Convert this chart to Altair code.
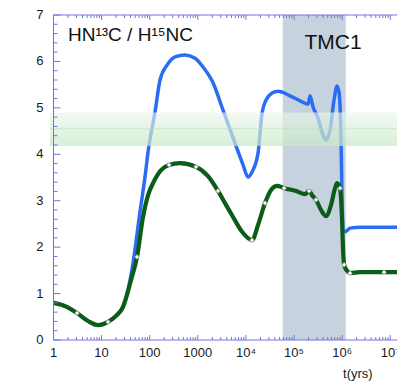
import altair as alt
import pandas as pd

# ---------------- data ----------------
# time is given as exponent of 10 (years)
blue_exp = [0.0, 0.239, 0.489, 0.717, 0.925, 1.133, 1.30, 1.445, 1.549, 1.653,
            1.798, 1.902, 1.965, 2.11, 2.214, 2.36, 2.526, 2.734, 2.942, 3.108,
            3.316, 3.524, 3.773, 3.94, 4.044, 4.127, 4.252, 4.335, 4.418, 4.543,
            4.667, 4.917, 5.125, 5.291, 5.333, 5.395, 5.499, 5.582, 5.665, 5.748,
            5.831, 5.894, 5.935, 5.977, 5.998, 6.019, 6.06, 6.164, 6.372, 6.79, 7.14]
blue_val = [0.80, 0.73, 0.58, 0.41, 0.32, 0.39, 0.52, 0.73, 1.08, 1.66,
            2.76, 3.51, 4.05, 4.91, 5.60, 5.92, 6.10, 6.14, 6.07, 5.88,
            5.54, 4.95, 4.24, 3.77, 3.51, 3.62, 4.03, 4.89, 5.17, 5.32,
            5.36, 5.26, 5.15, 5.08, 5.26, 5.02, 4.78, 4.48, 4.31, 4.52,
            5.17, 5.47, 5.34, 4.31, 3.02, 2.37, 2.33, 2.41, 2.43, 2.43, 2.43]

green_exp = [0.0, 0.239, 0.489, 0.717, 0.925, 1.133, 1.30, 1.445, 1.611, 1.736,
             1.861, 1.965, 2.069, 2.235, 2.401, 2.63, 2.963, 3.212, 3.42, 3.586,
             3.732, 3.919, 4.127, 4.252, 4.397, 4.522, 4.647, 4.792, 5.042, 5.229,
             5.312, 5.374, 5.457, 5.561, 5.665, 5.769, 5.852, 5.894, 5.956, 5.998,
             6.019, 6.04, 6.102, 6.164, 6.372, 6.871, 7.14]
green_val = [0.80, 0.73, 0.58, 0.41, 0.32, 0.39, 0.52, 0.71, 1.29, 1.79,
             2.65, 3.12, 3.38, 3.66, 3.77, 3.81, 3.73, 3.53, 3.21, 2.91,
             2.65, 2.33, 2.15, 2.48, 2.95, 3.23, 3.32, 3.27, 3.21, 3.14,
             3.21, 3.12, 3.02, 2.80, 2.67, 2.91, 3.27, 3.38, 3.27, 2.58,
             1.94, 1.62, 1.49, 1.44, 1.46, 1.46, 1.46]

marker_exp = [0.489, 1.133, 1.736, 2.401, 2.963, 3.42, 4.127, 4.397, 4.792,
              5.312, 5.457, 5.956, 6.04, 6.164, 6.871]
marker_val = [0.58, 0.39, 1.79, 3.77, 3.73, 3.21, 2.15, 2.95, 3.27,
              3.21, 3.02, 3.27, 1.62, 1.44, 1.46]

tmc1_exp = [4.765, 6.075]          # shaded TMC1 age range
band_range = [4.18, 4.90]          # observed ratio band
band_mid = 4.55

x_tick_values = [1, 10, 100, 1000, 10**4, 10**5, 10**6, 10**7]
x_tick_labels = ["1", "10", "100", "1000", "10⁴", "10⁵", "10⁶", "10⁷"]
y_tick_values = [0, 1, 2, 3, 4, 5, 6, 7]
y_tick_labels = ["0", "1", "2", "3", "4", "5", "6", "7"]

title_text = "HN¹³C / H¹⁵NC"
region_text = "TMC1"
x_title = "t(yrs)"

# ---------------- layout / style ----------------
W, H = 343.5, 325
X_MAX = 10 ** 7.14
AXC = "#7272e6"
FONT = "Liberation Sans"
TXT = "#1a1a1a"
xs = alt.Scale(type="log", domain=[1, X_MAX], nice=False)
ys = alt.Scale(domain=[0, 7], nice=False)

df_blue = pd.DataFrame({"t": [10 ** e for e in blue_exp], "v": blue_val})
df_green = pd.DataFrame({"t": [10 ** e for e in green_exp], "v": green_val})
df_mark = pd.DataFrame({"t": [10 ** e for e in marker_exp], "v": marker_val})
df_tmc = pd.DataFrame({"t1": [10 ** tmc1_exp[0]], "t2": [10 ** tmc1_exp[1]]})
df_band = pd.DataFrame({"lo": [band_range[0]], "hi": [band_range[1]], "mid": [band_mid]})
df_xlab = pd.DataFrame({"t": x_tick_values, "lab": x_tick_labels})
df_ylab = pd.DataFrame({"v": y_tick_values, "lab": y_tick_labels})

xt_major = pd.DataFrame({"t": x_tick_values})
xt_minor = pd.DataFrame({"t": [m * 10 ** k for k in range(8) for m in range(2, 10)
                               if m * 10 ** k <= X_MAX]})
yt_major = pd.DataFrame({"v": y_tick_values})
yt_minor = pd.DataFrame({"v": [round(i * 0.2, 1) for i in range(36) if i % 5 != 0]})

X = lambda f: alt.X(f, scale=xs, axis=None)
Y = lambda f: alt.Y(f, scale=ys, axis=None)

shade = alt.Chart(df_tmc).mark_rect(color="#c6d3de").encode(
    x=X("t1:Q"), x2="t2:Q", y=alt.value(0), y2=alt.value(H))

blue = alt.Chart(df_blue).mark_line(color="#2b6cf4", strokeWidth=3.5,
                                     interpolate="monotone").encode(
    x=X("t:Q"), y=Y("v:Q"))

green = alt.Chart(df_green).mark_line(color="#0b5c16", strokeWidth=4.2,
                                       interpolate="monotone").encode(
    x=X("t:Q"), y=Y("v:Q"))

marks = alt.Chart(df_mark).mark_point(shape="diamond", filled=True, fill="white",
                                       stroke="#9a9a9a", strokeWidth=0.8,
                                       size=22, opacity=1).encode(
    x=X("t:Q"), y=Y("v:Q"))

band = alt.Chart(df_band).mark_rect(
    fill=alt.Gradient(gradient="linear",
                      stops=[alt.GradientStop(color="rgba(236,246,236,0.62)", offset=0),
                             alt.GradientStop(color="rgba(198,232,198,0.72)", offset=1)],
                      x1=0, x2=0, y1=0, y2=1)).encode(
    x=alt.value(-3.5), x2=alt.value(W), y=Y("lo:Q"), y2="hi:Q")

band_line = alt.Chart(df_band).mark_rule(color="rgba(185,220,185,0.6)", strokeWidth=1).encode(
    x=alt.value(-3.5), x2=alt.value(W), y=Y("mid:Q"))

def xticks(df, y0, y1):
    return alt.Chart(df).mark_rule(color=AXC, strokeWidth=1).encode(
        x=X("t:Q"), y=alt.value(y0), y2=alt.value(y1))

def yticks(df, length):
    return alt.Chart(df).mark_rule(color=AXC, strokeWidth=1).encode(
        y=Y("v:Q"), x=alt.value(0), x2=alt.value(length))

frame = alt.Chart(df_band)
top_line = frame.mark_rule(color=AXC, strokeWidth=1).encode(
    x=alt.value(0), x2=alt.value(W + 5), y=alt.value(0))
bottom_line = frame.mark_rule(color=AXC, strokeWidth=1).encode(
    x=alt.value(0), x2=alt.value(W + 5), y=alt.value(H))
left_line = frame.mark_rule(color=AXC, strokeWidth=1).encode(
    x=alt.value(0), y=alt.value(0), y2=alt.value(H))

xlabels = alt.Chart(df_xlab).mark_text(font=FONT, fontSize=13, color=TXT,
                                        align="center", baseline="alphabetic").encode(
    x=X("t:Q"), y=alt.value(H + 16.5), text="lab:N")
ylabels = alt.Chart(df_ylab).mark_text(font=FONT, fontSize=13, color=TXT,
                                        align="right", baseline="middle").encode(
    y=Y("v:Q"), x=alt.value(-10), text="lab:N")

xtitle = alt.Chart(pd.DataFrame({"s": [x_title]})).mark_text(
    font=FONT, fontSize=13, align="right", baseline="middle", color=TXT).encode(
    text="s:N", x=alt.value(319.2), y=alt.value(H + 34))

title = alt.Chart(pd.DataFrame({"s": [title_text]})).mark_text(
    font=FONT, fontSize=19, align="left", baseline="alphabetic", color="#111111").encode(
    text="s:N", x=alt.value(14.5), y=alt.value(26))

region = alt.Chart(pd.DataFrame({"s": [region_text]})).mark_text(
    font=FONT, fontSize=21, align="center", baseline="middle", color="#111111").encode(
    text="s:N", x=alt.value(279.5), y=alt.value(27.5))

chart = alt.layer(
    shade, blue, green, marks, band, band_line,
    xticks(xt_major, H, H - 5), xticks(xt_minor, H, H - 3),
    xticks(xt_major, 0, 5), xticks(xt_minor, 0, 3),
    yticks(yt_major, 7), yticks(yt_minor, 4),
    top_line, bottom_line, left_line,
    xlabels, ylabels, xtitle, title, region
).properties(
    width=W, height=H,
    autosize=alt.AutoSizeParams(type="none"),
    padding={"left": 53.5, "top": 15, "right": 0, "bottom": 42}
).configure_view(stroke="transparent")

chart.save("out.html", embed_options={"renderer": "svg", "actions": False})
